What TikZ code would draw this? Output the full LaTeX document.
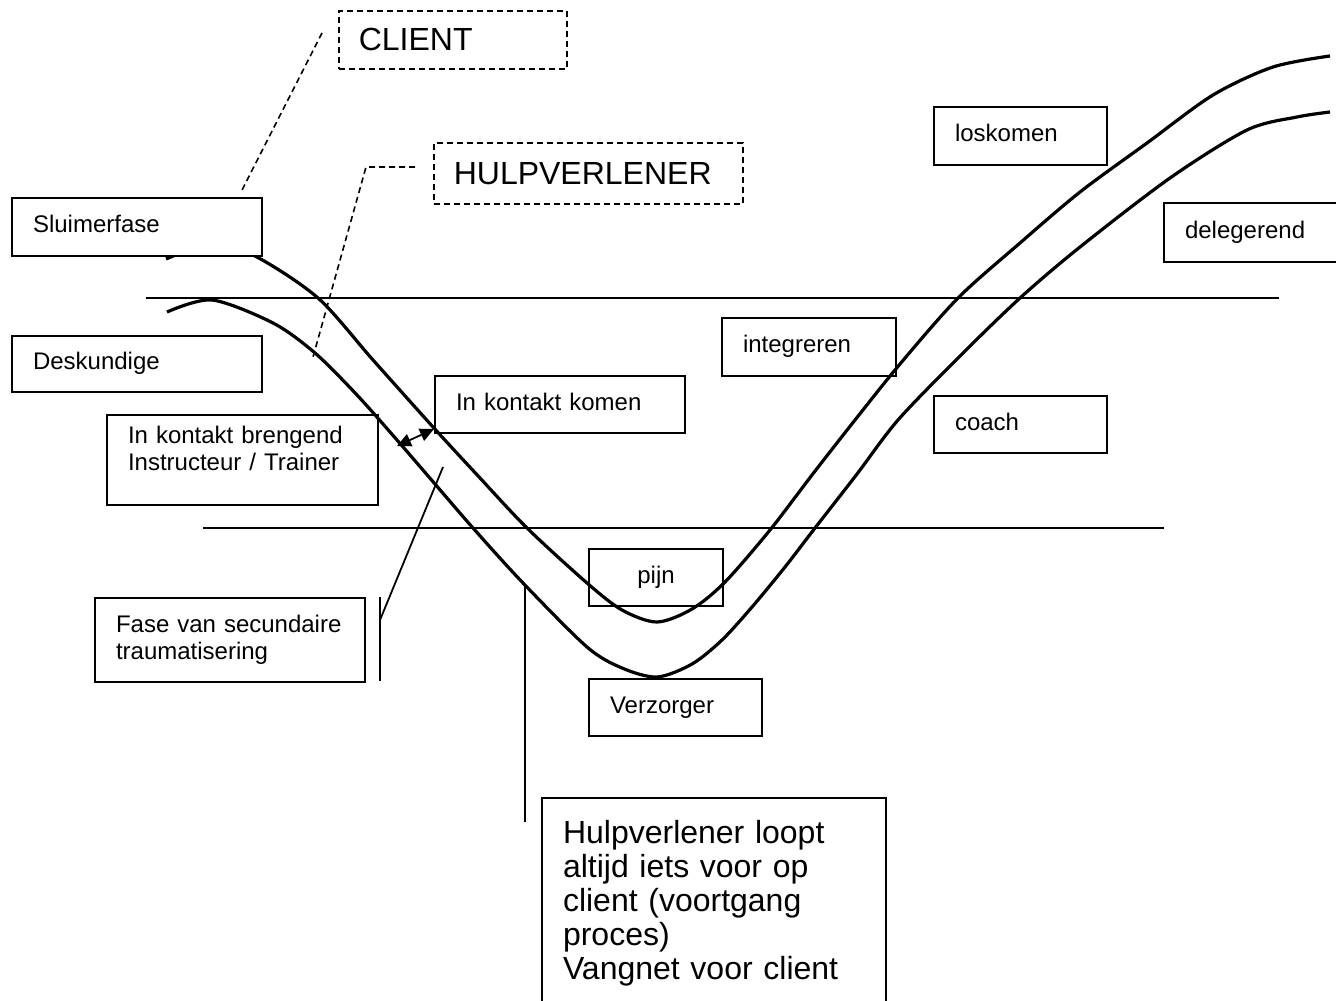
\documentclass[tikz,border=0pt]{standalone}
\usepackage{fontspec}
\setmainfont{Liberation Sans}
\usetikzlibrary{arrows.meta}

\tikzset{
  box/.style={draw, line width=1pt, anchor=north west, inner xsep=10.5pt, inner ysep=0pt, align=left, font=\fontsize{12}{13.5}\selectfont},
  single/.style={box, text height=9pt, text depth=3.5pt},
  tag/.style={box, line width=0.8pt, dash pattern=on 3pt off 2pt, inner xsep=10pt, font=\fontsize{16}{17}\selectfont},
  curve/.style={line width=1.6pt},
  level/.style={line width=0.9pt},
  leader/.style={line width=0.8pt, dash pattern=on 3pt off 2pt},
  pointer/.style={line width=0.9pt},
}

\begin{document}
\begin{tikzpicture}[x=0.5pt,y=-0.5pt]
\useasboundingbox (0,0) rectangle (1336,1000);
\clip (0,0) rectangle (1336,1000);

\draw[level] (146,298) -- (1279,298);
\draw[level] (203,528) -- (1164,528);

% client
\draw[curve] plot[smooth] coordinates {(166,259) (212,244) (255,256) (318,298) (373,360) (433,427) (480,478) (527,528) (587,583) (622,610) (657,622) (692,609) (725,582) (770,530) (812,475) (855,420) (900,364) (958,298) (1020,243) (1080,192) (1147,143) (1213,95) (1273,67) (1330,56)};
% hulpverlener
\draw[curve] plot[smooth] coordinates {(167,312) (212,300) (273,323) (315,353) (357,395) (397,440) (435,484) (473,528) (523,583) (587,647) (622,668) (657,677) (692,664) (722,640) (752,607) (785,567) (815,528) (857,474) (898,420) (959,357) (1020,298) (1080,247) (1170,178) (1247,130) (1297,117) (1330,112)};

\node[single, fill=white, minimum height=29pt, text width=104pt] (sluimer) at (11,197) {Sluimerfase};
\node[single, minimum height=28pt, text width=104pt] (deskundig) at (11,335) {Deskundige};
\node[box, minimum height=45pt, text width=114.5pt, text depth=25pt] (brengend) at (106,414) {In kontakt brengend\\Instructeur / Trainer};
\node[single, minimum height=28.5pt, text width=104pt] (komen) at (434,375) {In kontakt komen};
\node[box, minimum height=42pt, text width=114pt] (fase) at (94,597) {Fase van secundaire\\traumatisering};
\node[single, minimum height=28.5pt, text width=46pt, align=center] (pijn) at (588,548) {pijn};
\node[single, minimum height=28.5pt, text width=65.5pt] (verzorger) at (588,678) {Verzorger};
\node[single, minimum height=29pt, text width=66pt] (integreren) at (721,317) {integreren};
\node[single, minimum height=28.5pt, text width=65.5pt] (coach) at (933,395) {coach};
\node[single, minimum height=29pt, text width=65.5pt] (loskomen) at (933,106) {loskomen};
\node[single, minimum height=29.5pt, text width=66.5pt] (delegerend) at (1163,202) {delegerend};
\node[box, minimum height=105pt, text width=151pt, font=\fontsize{16}{17}\selectfont] (uitleg) at (541,797) {Hulpverlener loopt\\altijd iets voor op\\client (voortgang\\proces)\\Vangnet voor client};
\node[tag, minimum height=29pt, text width=94pt] (client) at (338,10) {CLIENT};
\node[tag, minimum height=30.5pt, text width=134.5pt] (hulp) at (433,142) {HULPVERLENER};

\coordinate (c1) at (322,33);
\coordinate (c2) at (241,192);
\draw[leader] (c1) -- (c2);
\coordinate (h1) at (415,167);
\coordinate (h2) at (366,167);
\coordinate (h3) at (313,357);
\draw[leader] (h1) -- (h2) -- (h3);

\coordinate (a1) at (397,446);
\coordinate (a2) at (434,429);
\draw[pointer, {Triangle[length=7pt,width=6.5pt]}-{Triangle[length=7pt,width=6.5pt]}] (a1) -- (a2);

\coordinate (p1) at (443,467);
\coordinate (p2) at (380,620);
\coordinate (p3) at (380,597);
\coordinate (p4) at (380,681);
\coordinate (p5) at (525,585);
\coordinate (p6) at (525,822);
\draw[pointer] (p1) -- (p2);
\draw[pointer] (p3) -- (p4);
\draw[pointer] (p5) -- (p6);
\end{tikzpicture}
\end{document}
